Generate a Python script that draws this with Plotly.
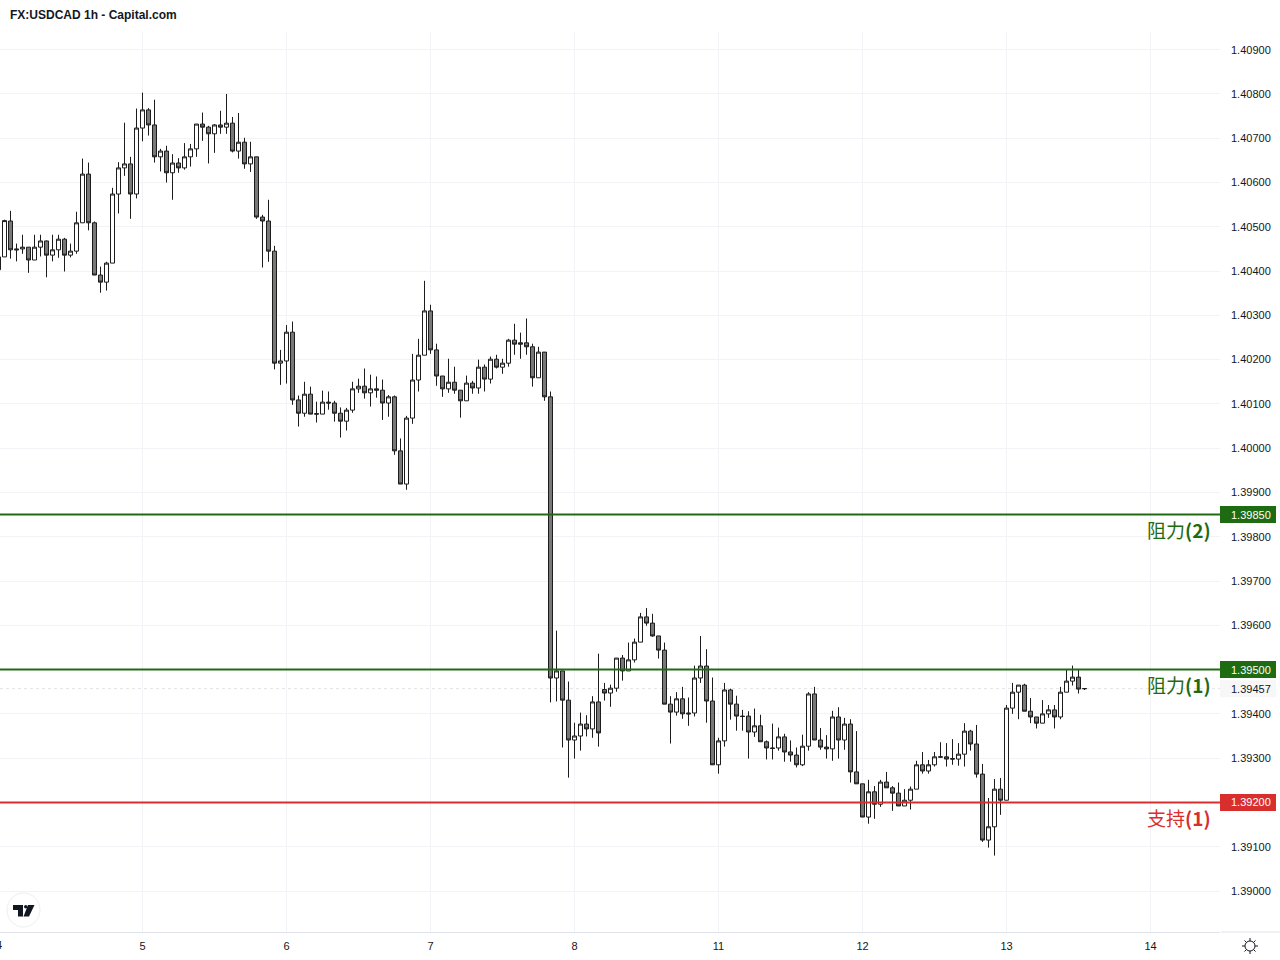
import plotly.graph_objects as go

# USDCAD 1h bars, oldest first
bars = list(range(-1, 181))
opens = [
    1.40403, 1.40432, 1.40513, 1.40450, 1.40450, 1.40454, 1.40425, 1.40454, 1.40468, 1.40436, 1.40448, 1.40472,
    1.40436, 1.40445, 1.40509, 1.40619, 1.40509, 1.40391, 1.40375, 1.40418, 1.40574, 1.40633, 1.40642, 1.40574,
    1.40723, 1.40764, 1.40730, 1.40658, 1.40671, 1.40622, 1.40644, 1.40633, 1.40658, 1.40676, 1.40732, 1.40725,
    1.40710, 1.40730, 1.40725, 1.40734, 1.40671, 1.40691, 1.40642, 1.40658, 1.40522, 1.40513, 1.40445, 1.40192,
    1.40197, 1.40262, 1.40109, 1.40079, 1.40122, 1.40078, 1.40077, 1.40104, 1.40102, 1.40079, 1.40061, 1.40086,
    1.40134, 1.40140, 1.40125, 1.40134, 1.40131, 1.40102, 1.40116, 1.39994, 1.39919, 1.40068, 1.40154, 1.40210,
    1.40310, 1.40222, 1.40163, 1.40134, 1.40149, 1.40131, 1.40107, 1.40147, 1.40136, 1.40183, 1.40156, 1.40201,
    1.40183, 1.40192, 1.40244, 1.40238, 1.40238, 1.40229, 1.40159, 1.40217, 1.40116, 1.39481, 1.39497, 1.39431,
    1.39341, 1.39350, 1.39377, 1.39366, 1.39427, 1.39455, 1.39447, 1.39458, 1.39526, 1.39497, 1.39522, 1.39562,
    1.39619, 1.39605, 1.39576, 1.39544, 1.39422, 1.39404, 1.39434, 1.39402, 1.39402, 1.39481, 1.39508, 1.39429,
    1.39285, 1.39339, 1.39454, 1.39422, 1.39395, 1.39395, 1.39359, 1.39373, 1.39337, 1.39323, 1.39323, 1.39348,
    1.39314, 1.39307, 1.39285, 1.39327, 1.39445, 1.39341, 1.39325, 1.39321, 1.39393, 1.39341, 1.39377, 1.39269,
    1.39242, 1.39167, 1.39224, 1.39196, 1.39246, 1.39233, 1.39221, 1.39192, 1.39205, 1.39230, 1.39285, 1.39271,
    1.39285, 1.39302, 1.39303, 1.39299, 1.39298, 1.39309, 1.39361, 1.39332, 1.39264, 1.39115, 1.39145, 1.39230,
    1.39205, 1.39413, 1.39449, 1.39465, 1.39406, 1.39393, 1.39379, 1.39400, 1.39409, 1.39393, 1.39449, 1.39474,
    1.39483, 1.39457,
]
highs = [
    1.40432, 1.40516, 1.40536, 1.40462, 1.40482, 1.40454, 1.40482, 1.40482, 1.40469, 1.40482, 1.40482, 1.40475,
    1.40462, 1.40534, 1.40654, 1.40645, 1.40512, 1.40410, 1.40421, 1.40588, 1.40646, 1.40735, 1.40658, 1.40767,
    1.40803, 1.40768, 1.40787, 1.40676, 1.40683, 1.40664, 1.40655, 1.40689, 1.40687, 1.40732, 1.40758, 1.40728,
    1.40732, 1.40762, 1.40800, 1.40748, 1.40757, 1.40701, 1.40692, 1.40658, 1.40527, 1.40561, 1.40457, 1.40222,
    1.40278, 1.40286, 1.40119, 1.40150, 1.40139, 1.40105, 1.40130, 1.40128, 1.40107, 1.40092, 1.40091, 1.40150,
    1.40157, 1.40180, 1.40166, 1.40162, 1.40155, 1.40120, 1.40119, 1.40022, 1.40073, 1.40213, 1.40247, 1.40378,
    1.40324, 1.40236, 1.40163, 1.40202, 1.40184, 1.40131, 1.40164, 1.40152, 1.40200, 1.40189, 1.40207, 1.40211,
    1.40202, 1.40247, 1.40281, 1.40261, 1.40293, 1.40236, 1.40229, 1.40217, 1.40128, 1.39588, 1.39497, 1.39473,
    1.39380, 1.39403, 1.39397, 1.39440, 1.39536, 1.39470, 1.39466, 1.39526, 1.39533, 1.39561, 1.39570, 1.39628,
    1.39639, 1.39626, 1.39576, 1.39561, 1.39440, 1.39449, 1.39461, 1.39437, 1.39509, 1.39576, 1.39546, 1.39482,
    1.39346, 1.39470, 1.39457, 1.39441, 1.39409, 1.39406, 1.39412, 1.39398, 1.39340, 1.39378, 1.39369, 1.39355,
    1.39340, 1.39324, 1.39353, 1.39449, 1.39461, 1.39368, 1.39352, 1.39407, 1.39415, 1.39391, 1.39388, 1.39361,
    1.39242, 1.39251, 1.39237, 1.39251, 1.39269, 1.39237, 1.39245, 1.39230, 1.39236, 1.39294, 1.39314, 1.39296,
    1.39314, 1.39336, 1.39334, 1.39343, 1.39334, 1.39379, 1.39364, 1.39375, 1.39287, 1.39210, 1.39253, 1.39255,
    1.39420, 1.39470, 1.39465, 1.39468, 1.39436, 1.39393, 1.39431, 1.39420, 1.39420, 1.39461, 1.39501, 1.39509,
    1.39500, 1.39458,
]
lows = [
    1.40403, 1.40432, 1.40428, 1.40422, 1.40439, 1.40396, 1.40425, 1.40433, 1.40386, 1.40422, 1.40430, 1.40399,
    1.40431, 1.40439, 1.40509, 1.40492, 1.40391, 1.40351, 1.40356, 1.40418, 1.40530, 1.40615, 1.40518, 1.40564,
    1.40693, 1.40706, 1.40645, 1.40625, 1.40600, 1.40561, 1.40622, 1.40629, 1.40636, 1.40658, 1.40694, 1.40643,
    1.40667, 1.40710, 1.40710, 1.40668, 1.40654, 1.40631, 1.40624, 1.40518, 1.40408, 1.40421, 1.40178, 1.40143,
    1.40146, 1.40098, 1.40049, 1.40071, 1.40077, 1.40058, 1.40077, 1.40087, 1.40060, 1.40024, 1.40040, 1.40080,
    1.40125, 1.40112, 1.40094, 1.40114, 1.40064, 1.40071, 1.39985, 1.39919, 1.39906, 1.40055, 1.40128, 1.40210,
    1.40213, 1.40141, 1.40116, 1.40125, 1.40123, 1.40069, 1.40107, 1.40123, 1.40123, 1.40128, 1.40146, 1.40180,
    1.40168, 1.40184, 1.40211, 1.40202, 1.40211, 1.40139, 1.40159, 1.40107, 1.39426, 1.39428, 1.39324, 1.39256,
    1.39299, 1.39317, 1.39349, 1.39346, 1.39326, 1.39430, 1.39416, 1.39450, 1.39475, 1.39497, 1.39516, 1.39562,
    1.39599, 1.39574, 1.39525, 1.39422, 1.39333, 1.39396, 1.39389, 1.39373, 1.39394, 1.39470, 1.39380, 1.39285,
    1.39265, 1.39326, 1.39387, 1.39362, 1.39362, 1.39299, 1.39348, 1.39337, 1.39297, 1.39297, 1.39317, 1.39292,
    1.39292, 1.39279, 1.39282, 1.39317, 1.39341, 1.39319, 1.39299, 1.39294, 1.39299, 1.39319, 1.39245, 1.39242,
    1.39167, 1.39152, 1.39163, 1.39190, 1.39233, 1.39181, 1.39192, 1.39192, 1.39184, 1.39230, 1.39265, 1.39265,
    1.39281, 1.39302, 1.39281, 1.39285, 1.39283, 1.39281, 1.39317, 1.39256, 1.39111, 1.39098, 1.39080, 1.39172,
    1.39205, 1.39400, 1.39388, 1.39406, 1.39379, 1.39367, 1.39379, 1.39391, 1.39367, 1.39388, 1.39449, 1.39464,
    1.39446, 1.39454,
]
closes = [
    1.40432, 1.40514, 1.40448, 1.40448, 1.40454, 1.40425, 1.40454, 1.40468, 1.40436, 1.40448, 1.40472, 1.40436,
    1.40445, 1.40509, 1.40619, 1.40509, 1.40391, 1.40375, 1.40418, 1.40574, 1.40633, 1.40642, 1.40574, 1.40723,
    1.40764, 1.40730, 1.40658, 1.40671, 1.40622, 1.40644, 1.40633, 1.40658, 1.40676, 1.40732, 1.40725, 1.40710,
    1.40730, 1.40725, 1.40734, 1.40671, 1.40691, 1.40642, 1.40658, 1.40522, 1.40513, 1.40445, 1.40192, 1.40197,
    1.40262, 1.40109, 1.40079, 1.40122, 1.40077, 1.40077, 1.40104, 1.40102, 1.40079, 1.40061, 1.40086, 1.40134,
    1.40140, 1.40125, 1.40134, 1.40131, 1.40102, 1.40116, 1.39994, 1.39919, 1.40068, 1.40154, 1.40210, 1.40310,
    1.40222, 1.40163, 1.40134, 1.40149, 1.40131, 1.40107, 1.40147, 1.40136, 1.40183, 1.40156, 1.40201, 1.40183,
    1.40192, 1.40244, 1.40235, 1.40235, 1.40229, 1.40159, 1.40217, 1.40116, 1.39481, 1.39497, 1.39431, 1.39341,
    1.39350, 1.39377, 1.39366, 1.39427, 1.39357, 1.39447, 1.39458, 1.39526, 1.39497, 1.39522, 1.39562, 1.39619,
    1.39605, 1.39576, 1.39544, 1.39422, 1.39404, 1.39434, 1.39400, 1.39400, 1.39481, 1.39508, 1.39429, 1.39285,
    1.39339, 1.39454, 1.39422, 1.39395, 1.39394, 1.39359, 1.39373, 1.39337, 1.39323, 1.39322, 1.39348, 1.39314,
    1.39307, 1.39285, 1.39327, 1.39445, 1.39341, 1.39325, 1.39321, 1.39393, 1.39341, 1.39377, 1.39269, 1.39242,
    1.39167, 1.39224, 1.39196, 1.39246, 1.39233, 1.39221, 1.39192, 1.39205, 1.39230, 1.39285, 1.39271, 1.39285,
    1.39303, 1.39303, 1.39298, 1.39298, 1.39309, 1.39361, 1.39332, 1.39264, 1.39115, 1.39145, 1.39230, 1.39205,
    1.39413, 1.39449, 1.39465, 1.39406, 1.39393, 1.39379, 1.39400, 1.39409, 1.39393, 1.39449, 1.39474, 1.39483,
    1.39456, 1.39457,
]

day_bars = [23, 47, 71, 95, 119, 143, 167, 191]
day_labels = ["5", "6", "7", "8", "11", "12", "13", "14"]
price_ticks = [1.39 + i * 0.001 for i in range(20)]

level_prices = [1.3985, 1.3950, 1.3920]
level_names = ["阻力", "阻力", "支持"]
level_nums = ["(2)", "(1)", "(1)"]
level_colors = ["#1f6b12", "#1f6b12", "#d92e2e"]
last_price = 1.39457

GRID = "#f2f3f6"
AXIS = "#e0e3eb"
TEXT = "#131722"
CANDLE_EDGE = "#1c1c1c"
CANDLE_DOWN = "#787878"


# layout helpers, pixels of the 1280x960 page to paper coords
def px(x):
    return x / 1220


def py(y):
    return (932 - y) / 900


def price_box(price, fill, text_color):
    # flag on the price scale, a shape plus its text
    shapes.append(dict(type="rect", xref="paper", yref="y", ysizemode="pixel", yanchor=price,
                       x0=1, x1=px(1276), y0=-8.5, y1=8.5,
                       fillcolor=fill, line=dict(width=0), layer="above"))
    annotations.append(dict(xref="paper", yref="y", x=px(1250.5), y=price, xanchor="center", yanchor="middle",
                            text=f"{price:.5f}", showarrow=False, font=dict(color=text_color, size=11)))


fig = go.Figure()

fig.add_trace(go.Candlestick(
    x=bars, open=opens, high=highs, low=lows, close=closes,
    whiskerwidth=0,
    increasing=dict(fillcolor="#ffffff", line=dict(color=CANDLE_EDGE, width=1)),
    decreasing=dict(fillcolor=CANDLE_DOWN, line=dict(color=CANDLE_EDGE, width=1)),
    hoverinfo="skip",
))

shapes = []
annotations = []

for price, color in zip(level_prices, level_colors):
    shapes.append(dict(type="line", xref="paper", yref="y", x0=0, x1=1, y0=price, y1=price,
                       line=dict(color=color, width=2), layer="above"))
    price_box(price, color, "#ffffff")

for price, name, num, color in zip(level_prices, level_names, level_nums, level_colors):
    annotations.append(dict(xref="paper", yref="y", x=px(1213), y=price, yshift=-15,
                            xanchor="right", yanchor="middle", showarrow=False,
                            text=f"{name}<b>{num}</b>",
                            font=dict(family="Noto Sans CJK SC", size=19, color=color)))

# last price line and its label
shapes.append(dict(type="line", xref="paper", yref="y", x0=0, x1=1, y0=last_price, y1=last_price,
                   line=dict(color="#e4e4e4", width=1, dash="dot"), layer="below"))
price_box(last_price, "#f7f7f7", TEXT)

annotations.append(dict(xref="paper", yref="paper", x=px(9), y=py(15), xanchor="left", yanchor="middle",
                        text="<b>FX:USDCAD 1h - Capital.com</b>", showarrow=False, borderpad=0,
                        font=dict(color=TEXT, size=12)))
# day 4 sits just off the left edge, only half of it shows
annotations.append(dict(xref="paper", yref="paper", x=px(-1), y=py(945), xanchor="center", yanchor="middle",
                        text="4", showarrow=False, font=dict(color=TEXT, size=11)))

# axis line under the price scale
shapes.append(dict(type="line", xref="paper", yref="paper", x0=px(1221), x1=px(1280), y0=0, y1=0,
                   line=dict(color=AXIS, width=1)))

# TradingView badge
shapes.append(dict(type="circle", xref="paper", yref="paper", x0=px(7), x1=px(40), y0=py(893), y1=py(927),
                   fillcolor="#ffffff", line=dict(color="#eeeeee", width=1), layer="above"))
badge = [[(13, 905), (23, 905), (23, 916.5), (18, 916.5), (18, 910), (13, 910)],
         [(28, 905), (34.5, 905), (29, 916.5), (23.5, 916.5)]]
for part in badge:
    path = "M " + " L ".join(f"{px(a):.5f},{py(b):.5f}" for a, b in part) + " Z"
    shapes.append(dict(type="path", xref="paper", yref="paper", path=path,
                       fillcolor=TEXT, line=dict(width=0), layer="above"))
shapes.append(dict(type="circle", xref="paper", yref="paper", x0=px(24), x1=px(27.5), y0=py(905), y1=py(908.5),
                   fillcolor=TEXT, line=dict(width=0), layer="above"))

# settings gear
shapes.append(dict(type="circle", xref="paper", yref="paper", x0=px(1245), x1=px(1255), y0=py(941), y1=py(951),
                   fillcolor="#ffffff", line=dict(color=TEXT, width=1), layer="above"))
for a0, b0, a1, b1 in [(1250, 938, 1250, 941), (1250, 951, 1250, 954), (1242, 946, 1245, 946),
                       (1255, 946, 1258, 946), (1244.5, 940.5, 1246.5, 942.5), (1253.5, 949.5, 1255.5, 951.5),
                       (1255.5, 940.5, 1253.5, 942.5), (1246.5, 949.5, 1244.5, 951.5)]:
    shapes.append(dict(type="line", xref="paper", yref="paper", x0=px(a0), x1=px(a1), y0=py(b0), y1=py(b1),
                       line=dict(color=TEXT, width=1), layer="above"))

# labels hidden behind the level flags are left empty
covered = [round(p, 5) for p in level_prices]
tick_labels = ["" if round(p, 5) in covered else f"{p:.5f}" for p in price_ticks]

fig.update_layout(
    width=1280, height=960,
    margin=dict(l=0, r=60, t=32, b=28),
    paper_bgcolor="#ffffff", plot_bgcolor="#ffffff",
    font=dict(family="Liberation Sans", size=11, color=TEXT),
    showlegend=False,
    boxgap=1 / 3,
    boxgroupgap=0,
    shapes=shapes,
    annotations=annotations,
    xaxis=dict(
        range=[-0.75, 202.583], rangeslider=dict(visible=False),
        tickmode="array", tickvals=day_bars, ticktext=day_labels,
        showgrid=True, gridcolor=GRID, gridwidth=1, zeroline=False,
        showline=True, linecolor=AXIS, linewidth=1, ticks="", ticklabelstandoff=4,
    ),
    yaxis=dict(
        side="right", range=[1.389074, 1.409399],
        tickmode="array", tickvals=price_ticks, ticktext=tick_labels,
        showgrid=True, gridcolor=GRID, gridwidth=1, zeroline=False,
        showline=False, ticks="", ticklabelstandoff=10,
    ),
)

# the page body has a default margin that would shift the chart
fig.write_html("out.html", config=dict(displayModeBar=False),
               post_script="document.body.style.margin='0';")
